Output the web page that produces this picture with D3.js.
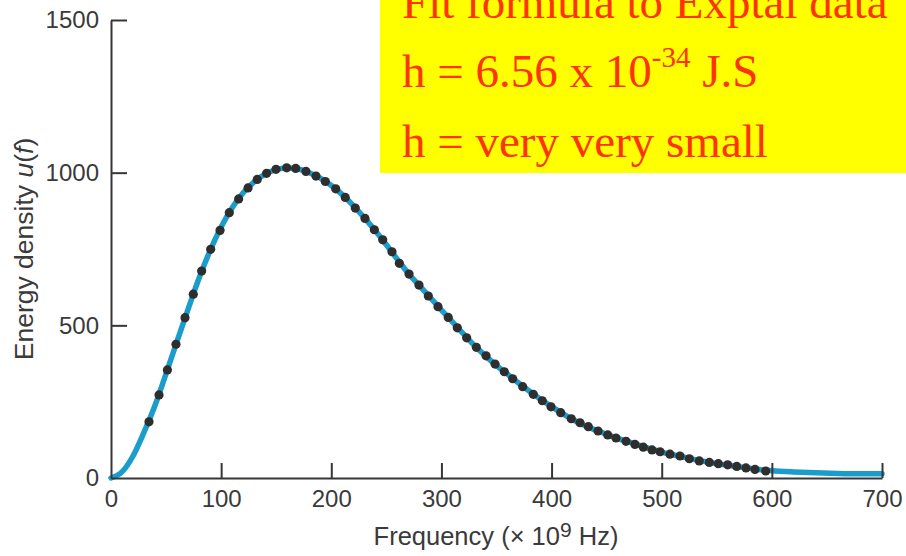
<!DOCTYPE html>
<html>
<head>
<meta charset="utf-8">
<script src="https://cdn.jsdelivr.net/npm/d3@7"></script>
<style>
  html, body { margin: 0; padding: 0; background: #fff; }
  svg { display: block; }
</style>
</head>
<body>
<svg id="chart" width="906" height="556"></svg>
<script>
// ---- data ----
const xTicks = [0, 100, 200, 300, 400, 500, 600, 700];
const yTicks = [0, 500, 1000, 1500];

// fitted curve (frequency in 10^9 Hz, energy density)
const curveFreq = [0,10,20,30,40,50,60,70,80,90,100,110,120,130,140,150,160,170,180,190,200,
  210,220,230,240,250,260,270,280,290,300,310,320,330,340,350,360,370,380,390,400,
  410,420,430,440,450,460,470,480,490,500,510,520,530,540,550,560,570,580,590,600,
  620,640,660,680,700];
const curveU = [0,20,72,150,238,342,448,553,655,745,822,885,934,970,995,1010,1015,1012,1000,982,958,
  928,892,852,810,764,716,670,630,590,550,511,472,434,400,368,340,311,284,258,234,
  211,190,172,157,143,130,118,107,95,85,76,68,60,53,47,42,37,32,27,24,
  20,17,15,14,14];

// experimental data points
const dataFreq = [34.5,43.6,51.2,59.0,67.2,74.7,82.3,90.5,99.0,107.4,115.9,124.4,132.8,141.3,
  149.8,159.5,167.7,177.0,186.1,194.6,204.0,212.7,221.8,230.6,239.1,246.7,255.1,261.8,
  270.6,279.6,288.1,296.9,306.2,314.4,322.9,331.7,340.5,348.7,357.1,364.7,373.8,
  383.4,391.6,399.5,408.3,417.9,425.8,433.4,442.2,451.0,458.5,467.6,475.7,483.3,491.2,
  498.5,507.5,516.6,525.1,534.1,543.2,551.4,559.9,568.1,576.5,584.7,594.4];
const dataU = [184,272,354,438,525,602,678,749,811,869,914,950,978,998,
  1011,1016,1014,1004,989,971,947,919,884,850,813,780,741,703,
  668,632,596,561,526,492,459,428,400,373,348,325,299,
  274,253,233,214,194,181,168,154,141,131,120,110,101,92,
  86,78,72,63,56,51,47,43,38,33,28,23];

const noteLines = ["Fit formula to Exptal data", "h = very very small"];

// ---- drawing ----
const svg = d3.select("#chart");
const x = d3.scaleLinear().domain([0, 700]).range([111, 882]);
const y = d3.scaleLinear().domain([0, 1500]).range([478, 20]);

const axisColor = "#363636";
const tickFont = "'Liberation Sans', Arial, Helvetica, sans-serif";

// curve
const curvePts = curveFreq.map((f, i) => [f, curveU[i]]);
svg.append("path")
  .datum(curvePts)
  .attr("fill", "none")
  .attr("stroke", "#1a9dca")
  .attr("stroke-width", 5.5)
  .attr("stroke-linecap", "round")
  .attr("d", d3.line().x(d => x(d[0])).y(d => y(d[1])).curve(d3.curveMonotoneX));

// axes
const gx = svg.append("g").attr("transform", "translate(0,478)")
  .call(d3.axisBottom(x).tickValues(xTicks).tickFormat(d3.format("d"))
    .tickSizeInner(-15).tickSizeOuter(0).tickPadding(12));
const gy = svg.append("g").attr("transform", "translate(111,0)")
  .call(d3.axisLeft(y).tickValues(yTicks).tickFormat(d3.format("d"))
    .tickSizeInner(-16).tickSizeOuter(0).tickPadding(12));

[gx, gy].forEach(g => {
  g.select(".domain").attr("stroke", axisColor).attr("stroke-width", 2);
  g.selectAll(".tick line").attr("stroke", axisColor).attr("stroke-width", 2);
  g.selectAll(".tick text").attr("fill", "#3a3a3a")
    .style("font-family", tickFont).style("font-size", "24px");
});
gx.selectAll(".tick").filter(d => d === 0).select("line").remove();
gy.selectAll(".tick").filter(d => d === 0).select("line").remove();

// points
svg.append("g").selectAll("circle")
  .data(dataFreq.map((f, i) => [f, dataU[i]]))
  .join("circle")
  .attr("cx", d => x(d[0]))
  .attr("cy", d => y(d[1]))
  .attr("r", 4.6)
  .attr("fill", "#2e2e2e");

// axis titles
const xt = svg.append("text")
  .attr("x", 496).attr("y", 545)
  .attr("text-anchor", "middle")
  .attr("fill", "#3a3a3a")
  .style("font-family", tickFont).style("font-size", "25.5px");
xt.append("tspan").text("Frequency (\u00d7 10");
xt.append("tspan").attr("dy", -8).style("font-size", "21px").text("9");
xt.append("tspan").attr("dy", 8).text(" Hz)");

const yt = svg.append("text")
  .attr("transform", "translate(33,249) rotate(-90)")
  .attr("text-anchor", "middle")
  .attr("fill", "#3a3a3a")
  .style("font-family", tickFont).style("font-size", "26.5px");
yt.append("tspan").text("Energy density ");
yt.append("tspan").style("font-style", "italic").text("u");
yt.append("tspan").text("(");
yt.append("tspan").style("font-style", "italic").text("f");
yt.append("tspan").text(")");

// yellow note box
svg.append("rect")
  .attr("x", 380).attr("y", -2).attr("width", 530).attr("height", 175)
  .attr("fill", "#ffff00");

const noteFont = "'Liberation Serif', 'Times New Roman', Times, serif";
const noteColor = "#ff3300";
svg.append("text").attr("x", 402).attr("y", 18)
  .attr("fill", noteColor).style("font-family", noteFont).style("font-size", "47px")
  .text(noteLines[0]);

const hl = svg.append("text").attr("x", 402).attr("y", 87)
  .attr("fill", noteColor).style("font-family", noteFont).style("font-size", "47px");
hl.append("tspan").text("h = 6.56 x 10");
hl.append("tspan").attr("dy", -20).style("font-size", "29px").text("-34");
hl.append("tspan").attr("dy", 20).text(" J.S");

svg.append("text").attr("x", 402).attr("y", 157)
  .attr("fill", noteColor).style("font-family", noteFont).style("font-size", "47px")
  .text(noteLines[1]);
</script>
</body>
</html>
